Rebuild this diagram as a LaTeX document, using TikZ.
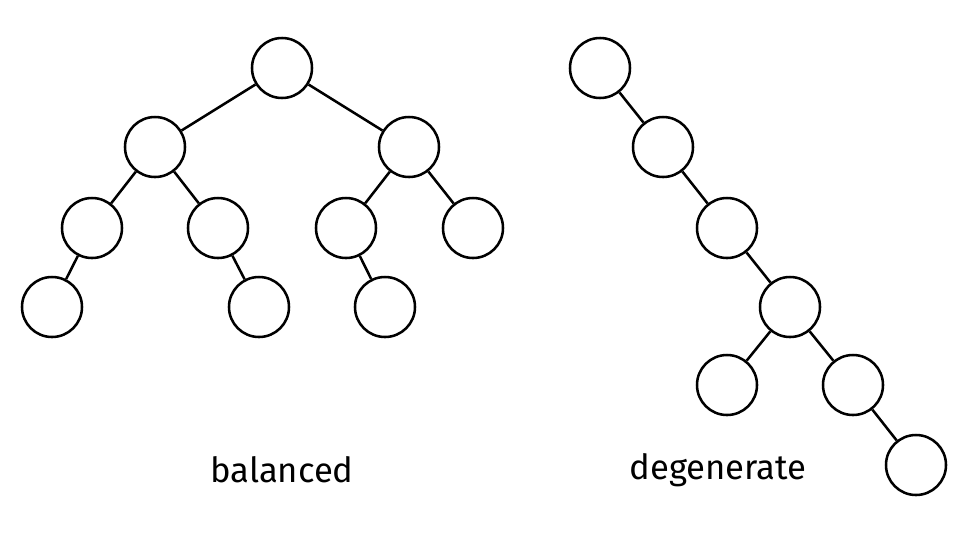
\documentclass[tikz,border=0pt]{standalone}
\usepackage{fontspec}
\setmainfont{Fira Sans}
\begin{document}
\begin{tikzpicture}[x=0.75pt,y=-0.75pt,
  vert/.style={circle,draw,line width=1.9pt,minimum size=45pt,inner sep=0pt},
  every path/.style={line width=1.9pt}]
\useasboundingbox (0,0) rectangle (975,544);
% balanced tree
\node[vert] (r) at (282,68) {};
\node[vert] (l) at (155,147) {};
\node[vert] (rr) at (409,147) {};
\node[vert] (ll) at (92,228) {};
\node[vert] (lr) at (218,228) {};
\node[vert] (rl) at (346,228) {};
\node[vert] (rrr) at (473,228) {};
\node[vert] (lll) at (52,307) {};
\node[vert] (lrr) at (259,307) {};
\node[vert] (rlr) at (385,307) {};
\draw (r) -- (l);
\draw (r) -- (rr);
\draw (l) -- (ll);
\draw (l) -- (lr);
\draw (rr) -- (rl);
\draw (rr) -- (rrr);
\draw (ll) -- (lll);
\draw (lr) -- (lrr);
\draw (rl) -- (rlr);
\node (bal) at (282,470) {\fontsize{26}{30}\selectfont balanced};
% degenerate tree
\node[vert] (d1) at (600,68) {};
\node[vert] (d2) at (663,147) {};
\node[vert] (d3) at (727,228) {};
\node[vert] (d4) at (790,307) {};
\node[vert] (d5) at (727,385) {};
\node[vert] (d6) at (853,385) {};
\node[vert] (d7) at (916,465) {};
\draw (d1) -- (d2);
\draw (d2) -- (d3);
\draw (d3) -- (d4);
\draw (d4) -- (d5);
\draw (d4) -- (d6);
\draw (d6) -- (d7);
\node (deg) at (718,470) {\fontsize{26}{30}\selectfont degenerate};
\end{tikzpicture}
\end{document}
